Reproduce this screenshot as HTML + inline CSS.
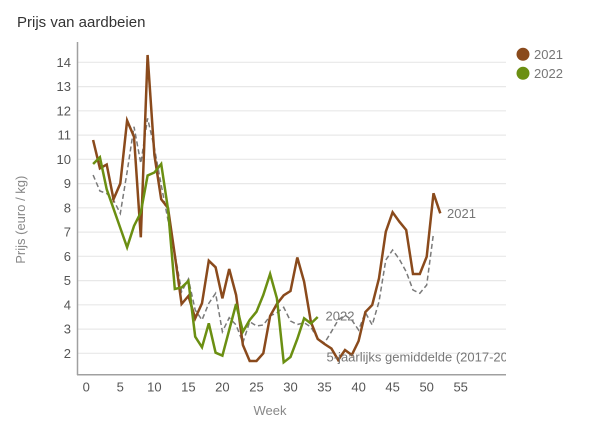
<!DOCTYPE html>
<html><head><meta charset="utf-8"><style>
html,body{margin:0;padding:0;background:#fff;}
svg{display:block;font-family:"Liberation Sans",Arial,sans-serif;}
</style></head><body>
<svg width="600" height="435" viewBox="0 0 600 435" xmlns="http://www.w3.org/2000/svg">
<defs><clipPath id="cp"><rect x="0" y="0" width="506" height="435"/></clipPath></defs>
<text x="17" y="27" font-size="15" fill="#333">Prijs van aardbeien</text>
<g stroke="#e8e8e8" stroke-width="1.2">
<line x1="78" x2="506" y1="62.3" y2="62.3"/>
<line x1="78" x2="506" y1="86.6" y2="86.6"/>
<line x1="78" x2="506" y1="110.8" y2="110.8"/>
<line x1="78" x2="506" y1="135.1" y2="135.1"/>
<line x1="78" x2="506" y1="159.3" y2="159.3"/>
<line x1="78" x2="506" y1="183.6" y2="183.6"/>
<line x1="78" x2="506" y1="207.8" y2="207.8"/>
<line x1="78" x2="506" y1="232.1" y2="232.1"/>
<line x1="78" x2="506" y1="256.3" y2="256.3"/>
<line x1="78" x2="506" y1="280.6" y2="280.6"/>
<line x1="78" x2="506" y1="304.8" y2="304.8"/>
<line x1="78" x2="506" y1="329.1" y2="329.1"/>
<line x1="78" x2="506" y1="353.3" y2="353.3"/>
</g>
<g stroke="#a0a0a0" stroke-width="1.5">
<line x1="77.5" x2="77.5" y1="42" y2="375"/>
<line x1="77" x2="506" y1="374.7" y2="374.7"/>
</g>
<g font-size="13" fill="#555" text-anchor="end">
<text x="71" y="66.8">14</text>
<text x="71" y="91.1">13</text>
<text x="71" y="115.3">12</text>
<text x="71" y="139.6">11</text>
<text x="71" y="163.8">10</text>
<text x="71" y="188.1">9</text>
<text x="71" y="212.3">8</text>
<text x="71" y="236.6">7</text>
<text x="71" y="260.8">6</text>
<text x="71" y="285.1">5</text>
<text x="71" y="309.3">4</text>
<text x="71" y="333.6">3</text>
<text x="71" y="357.8">2</text>
</g>
<g font-size="13" fill="#555" text-anchor="middle">
<text x="86.3" y="391.5">0</text>
<text x="120.3" y="391.5">5</text>
<text x="154.4" y="391.5">10</text>
<text x="188.4" y="391.5">15</text>
<text x="222.4" y="391.5">20</text>
<text x="256.5" y="391.5">25</text>
<text x="290.5" y="391.5">30</text>
<text x="324.5" y="391.5">35</text>
<text x="358.6" y="391.5">40</text>
<text x="392.6" y="391.5">45</text>
<text x="426.7" y="391.5">50</text>
<text x="460.7" y="391.5">55</text>
</g>
<text x="270" y="415" font-size="13" fill="#888" text-anchor="middle">Week</text>
<text transform="translate(25,219.7) rotate(-90)" font-size="13" fill="#888" text-anchor="middle">Prijs (euro / kg)</text>

<polyline fill="none" stroke="#7a7a7a" stroke-width="1.5" stroke-dasharray="5,3" points="93.1,175 99.9,191 106.7,193.5 113.5,200 120.3,213.5 127.1,172 134.0,126.7 140.8,163.3 147.6,118.3 154.4,148 161.2,185 168.0,220 174.8,253 181.6,291.7 188.4,279 195.2,310 202.0,320 208.8,303.3 215.6,293.3 222.4,331.7 229.2,317.7 236.1,325 242.9,342.7 249.7,321.7 256.5,326 263.3,325 270.1,316 276.9,312.7 283.7,307.3 290.5,321 297.3,324.5 304.1,322.7 310.9,327 317.7,339 324.5,343 331.4,331.7 338.2,320 345.0,315 351.8,320 358.6,330 365.4,312.5 372.2,325 379.0,301.7 385.8,260 392.6,250 399.4,259.3 406.2,271.7 413.0,290 419.8,293.3 426.7,285 433.5,233.3"/>

<polyline fill="none" stroke="#8a4a1c" stroke-width="2.5" stroke-linejoin="miter" points="93.1,140 99.9,168.3 106.7,164.5 113.5,199.3 120.3,183.5 127.1,120.5 134.0,136.7 140.8,237.3 147.6,55 154.4,155 161.2,199.3 168.0,208 174.8,255 181.6,304 188.4,296 195.2,318.3 202.0,303.3 208.8,260.7 215.6,267.3 222.4,298.3 229.2,269 236.1,295 242.9,345 249.7,361 256.5,361 263.3,353.3 270.1,316 276.9,304 283.7,295.3 290.5,291 297.3,257.5 304.1,281.7 310.9,322 317.7,339 324.5,344 331.4,348.5 338.2,360 345.0,350 351.8,355 358.6,341 365.4,312 372.2,305 379.0,278.3 385.8,231.7 392.6,212.3 399.4,221.7 406.2,230 413.0,274 419.8,274 426.7,256.7 433.5,193.3 440.3,213.3"/>

<polyline fill="none" stroke="#6b8f12" stroke-width="2.5" points="93.1,164 99.9,157.3 106.7,189.3 113.5,208.6 120.3,228 127.1,247.3 134.0,226 140.8,212.5 147.6,175.5 154.4,172.5 161.2,164 168.0,209 174.8,289 181.6,287.5 188.4,281 195.2,336.7 202.0,347.3 208.8,323.3 215.6,352.7 222.4,355.7 229.2,330 236.1,304 242.9,331.7 249.7,320 256.5,311.7 263.3,295 270.1,274 276.9,298.3 283.7,362.3 290.5,357 297.3,339 304.1,318.3 310.9,323.5 317.7,317"/>

<text x="447" y="218" font-size="13" fill="#777">2021</text>
<text x="325.5" y="320.5" font-size="13" fill="#777">2022</text>
<text x="326.5" y="361.5" font-size="13" fill="#777" clip-path="url(#cp)">5-jaarlijks gemiddelde (2017-2021)</text>

<circle cx="523" cy="54.3" r="6.5" fill="#8a4a1c"/>
<circle cx="523" cy="73.3" r="6.5" fill="#6b8f12"/>
<text x="534" y="58.8" font-size="13" fill="#777">2021</text>
<text x="534" y="77.8" font-size="13" fill="#777">2022</text>
</svg>
</body></html>
